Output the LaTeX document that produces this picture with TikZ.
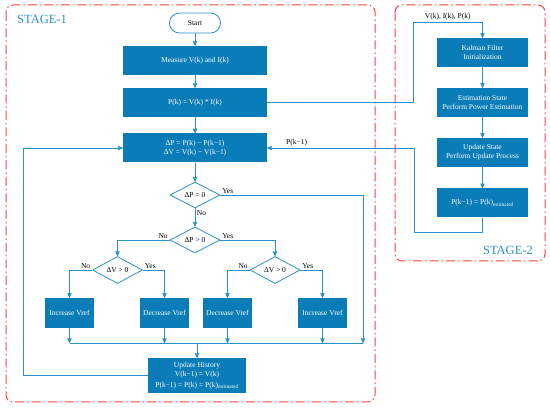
\documentclass[tikz,border=0pt]{standalone}
\usepackage{fontspec}
\setmainfont{Liberation Serif}
\usetikzlibrary{arrows,shapes.geometric,positioning}
\definecolor{boxblue}{HTML}{0A7DB8}
\definecolor{lineblue}{HTML}{2A90C8}
\definecolor{stagered}{HTML}{FF4040}

\begin{document}
\begin{tikzpicture}[x=1pt,y=-1pt,>=stealth',
                    txt/.style={font=\fontsize{7.5}{9}\selectfont},
                    proc/.style={rectangle,fill=boxblue,text=white,txt,align=center,
                                 minimum width=144,minimum height=29,inner sep=1pt},
                    small/.style={minimum width=49,minimum height=30},
                    side/.style={minimum width=91,minimum height=29},
                    dec/.style={diamond,draw=lineblue,line width=0.8pt,txt,
                                minimum width=50,minimum height=26,inner sep=0pt},
                    term/.style={rectangle,rounded corners=10pt,draw=lineblue,line width=0.8pt,
                                 txt,minimum width=51,minimum height=20},
                    flow/.style={->,draw=lineblue,line width=0.8pt},
                    lbl/.style={txt,inner sep=1.5pt},
                    stage/.style={draw=stagered,line width=1pt,rounded corners=7pt,
                                  dash pattern=on 9pt off 3pt on 1.5pt off 3pt},
                    stagelbl/.style={text=lineblue,font=\fontsize{12.5}{14}\selectfont,inner sep=0pt}]

 \useasboundingbox (0,0) rectangle (550,409);

 % stage frames
 \draw[stage] (6,5) rectangle (375,402);
 \draw[stage] (395,5) rectangle (545,261);
 \node[stagelbl,anchor=west] (s1) at (17,19)  {STAGE-1};
 \node[stagelbl,anchor=east] (s2) at (533,250) {STAGE-2};

 % stage 1
 \node[term] (start)   at (195,23)    {Start};
 \node[proc] (measure) at (195,60.5)  {Measure V(k) and I(k)};
 \node[proc] (power)   at (195,102.5) {P(k) = V(k) * I(k)};
 \node[proc] (delta)   at (195,148)   {ΔP = P(k) − P(k−1)\\ΔV = V(k) − V(k−1)};
 \node[dec]  (dpzero)  at (195,195)   {ΔP = 0};
 \node[dec]  (dppos)   at (195,240)   {ΔP > 0};
 \node[dec]  (dvleft)  at (117.5,270) {ΔV > 0};
 \node[dec]  (dvright) at (275,270)   {ΔV > 0};
 \node[proc,small] (incleft)  at (69.5,313)  {Increase Vref};
 \node[proc,small] (decleft)  at (164.5,313) {Decrease Vref};
 \node[proc,small] (decright) at (227.5,313) {Decrease Vref};
 \node[proc,small] (incright) at (322.5,313) {Increase Vref};
 \node[proc,minimum width=98,minimum height=35,inner sep=0pt] (hist) at (197,375.5)
      {Update History\\V(k−1) = V(k)\\[1.5pt]P(k−1) = P(k) = P(k)\textsubscript{estimated}};
 \coordinate (mergeL) at (69.5,343);
 \coordinate (mergeR) at (363,343);

 % stage 2
 \node[proc,side] (kalman) at (482.5,52.5)  {Kalman Filter\\Initialization};
 \node[proc,side] (estim)  at (482.5,102.5) {Estimation State\\Perform Power Estimation};
 \node[proc,side] (upd)    at (482.5,152.5) {Update State\\Perform Update Process};
 \node[proc,side] (pest)   at (482.5,203)   {P(k−1) = P(k)\textsubscript{estimated}};
 \coordinate (tap)  at (413,22);
 \coordinate (back) at (414,232);

 \draw[flow] (start) -- (measure);
 \draw[flow] (measure) -- (power);
 \draw[flow] (power) -- (delta);
 \draw[flow] (delta) -- (dpzero);
 \draw[flow] (dpzero.east) node[lbl,above right] {Yes} -| (mergeR);
 \draw[flow] (dpzero.south) node[lbl,below right] {No} -- (dppos);
 \draw[flow] (dppos.west) node[lbl,above left] {No} -| (dvleft);
 \draw[flow] (dppos.east) node[lbl,above right] {Yes} -| (dvright);
 \draw[flow] (dvleft.west) node[lbl,above left] {No} -| (incleft);
 \draw[flow] (dvleft.east) node[lbl,above right] {Yes} -| (decleft);
 \draw[flow] (dvright.west) node[lbl,above left] {No} -| (decright);
 \draw[flow] (dvright.east) node[lbl,above right] {Yes} -| (incright);
 \foreach \b in {incleft,decleft,decright,incright}
   \draw[flow] (\b) -- (\b |- mergeL);
 \draw[draw=lineblue,line width=0.8pt] (mergeL) -- (mergeR);
 \draw[flow] (hist |- mergeL) -- (hist);
 \draw[flow] (hist.west) -- ++(-124,0) |- (delta.west);

 \draw[flow] (power.east) -| (tap) -| node[lbl,above,pos=0.25] {V(k), I(k), P(k)} (kalman);
 \draw[flow] (kalman) -- (estim);
 \draw[flow] (estim) -- (upd);
 \draw[flow] (upd) -- (pest);
 \draw[flow] (pest) |- (back) |- node[lbl,above,pos=0.9] {P(k−1)} (delta.east);

\end{tikzpicture}
\end{document}
